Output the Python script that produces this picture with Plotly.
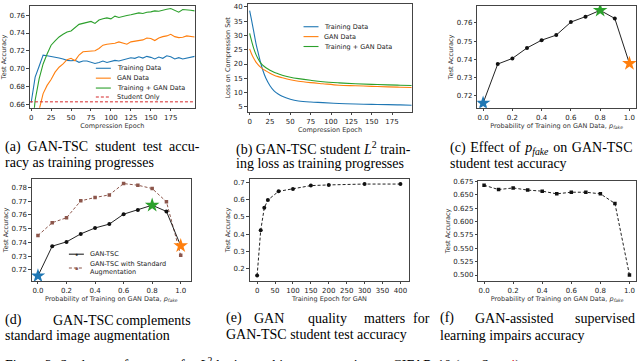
import plotly.graph_objects as go

W, H = 640, 361

BLUE = '#1f77b4'
ORANGE = '#ff7f0e'
GREEN = '#2ca02c'
RED = '#d62728'
BROWN = '#8c564b'

# (a) test accuracy vs compression epoch
epochs_a = list(range(0, 206, 5))
acc_train = [0.662, 0.6906, 0.7028, 0.7153, 0.7146, 0.7139, 0.7135, 0.712, 0.711, 0.7094,
             0.709, 0.7094, 0.7072, 0.7087, 0.7087, 0.707, 0.706, 0.707, 0.7087, 0.707,
             0.708, 0.7094, 0.7087, 0.710, 0.711, 0.7124, 0.7117, 0.7135, 0.712, 0.7139,
             0.7128, 0.711, 0.7131, 0.7117, 0.7146, 0.7135, 0.711, 0.7124, 0.711, 0.7117,
             0.7124, 0.7139]
acc_gan = [0.60, 0.63, 0.654, 0.6722, 0.6814, 0.688, 0.6962, 0.7017, 0.7054, 0.7102,
           0.7117, 0.7091, 0.7154, 0.719, 0.7194, 0.7198, 0.7202, 0.7227, 0.7264, 0.7275,
           0.7279, 0.7286, 0.7301, 0.7286, 0.7275, 0.7301, 0.7308, 0.7312, 0.7323, 0.7345,
           0.7338, 0.7316, 0.7345, 0.736, 0.7368, 0.7386, 0.736, 0.7349, 0.7353, 0.7368,
           0.7364, 0.7356]
acc_both = [0.62, 0.6648, 0.6888, 0.7054, 0.7165, 0.7264, 0.7312, 0.7356, 0.7386, 0.7412,
            0.7423, 0.746, 0.7497, 0.7508, 0.7523, 0.753, 0.7508, 0.7545, 0.7559, 0.757,
            0.7559, 0.7589, 0.7574, 0.7589, 0.7596, 0.7604, 0.7615, 0.7626, 0.7618, 0.7633,
            0.7637, 0.7648, 0.7644, 0.7659, 0.7666, 0.7674, 0.7655, 0.7633, 0.7663, 0.7655,
            0.7655, 0.7648]
student_only = 0.663

# (b) L2 loss vs compression epoch
epochs_b = [0, 2, 5, 8, 10, 13, 16, 20, 25, 30, 35, 40, 50, 60, 75, 90, 110, 130, 150, 170, 185, 199]
loss_train = [38.7, 35.9, 31.4, 26.9, 24.5, 21.0, 18.0, 15.0, 12.4, 10.6, 9.5, 8.7, 7.7, 7.1,
              6.7, 6.5, 6.2, 6.0, 5.9, 5.8, 5.7, 5.6]
loss_gan = [25.3, 23.8, 22.0, 20.6, 19.9, 19.0, 18.3, 17.6, 16.8, 16.1, 15.6, 15.2, 14.5, 14.0,
            13.5, 13.1, 12.6, 12.4, 12.2, 12.0, 11.9, 11.8]
loss_both = [30.7, 28.5, 25.5, 23.2, 22.0, 20.6, 19.6, 18.7, 17.8, 17.1, 16.6, 16.1, 15.4, 14.9,
             14.3, 13.8, 13.4, 13.1, 12.9, 12.7, 12.6, 12.5]

# (c)/(d) effect of p_fake
p_fake = [0.0, 0.1, 0.2, 0.3, 0.4, 0.5, 0.6, 0.7, 0.8, 0.9, 1.0]
acc_tsc = [0.7157, 0.7373, 0.7404, 0.7462, 0.7505, 0.7533, 0.7605, 0.7635, 0.767, 0.7625, 0.7376]
acc_tsc_aug = [0.745, 0.7543, 0.7579, 0.7702, 0.7726, 0.7745, 0.7827, 0.7815, 0.7791, 0.7695, 0.7307]
star_idx = [0, 8, 10]
star_colors = [BLUE, GREEN, ORANGE]

# (e) GAN quality
gan_epochs = [0, 10, 20, 30, 60, 100, 150, 200, 300, 400]
acc_gan_epoch = [0.162, 0.423, 0.553, 0.598, 0.648, 0.662, 0.681, 0.685, 0.690, 0.690]

# (f) GAN-assisted supervised learning
acc_sup = [0.668, 0.660, 0.663, 0.659, 0.657, 0.652, 0.655, 0.655, 0.652, 0.634, 0.500]


def dom(l, t, r, b):
    return [l / W, r / W], [1 - b / H, 1 - t / H]


TICKFONT = dict(family='DejaVu Sans', size=7, color='#222')
TITLEFONT = dict(family='DejaVu Sans', size=6.5, color='#333')
PFAKE = 'Probability of Training on GAN Data, <i>p<sub>fake</sub></i>'

fig = go.Figure()

panels = [
    # box, xrange, yrange, xticks, xfmt, yticks, yfmt, xtitle, ytitle
    ((29, 3, 194, 106), [-1.5, 205], [0.6563, 0.7703], [0, 25, 50, 75, 100, 125, 150, 175], 'd',
     [0.66, 0.68, 0.70, 0.72, 0.74, 0.76], '.2f', 'Compression Epoch', 'Test Accuracy'),
    ((247, 1, 412, 110), [-2.5, 200], [3.3, 41.0], [0, 25, 50, 75, 100, 125, 150, 175], 'd',
     [5, 10, 15, 20, 25, 30, 35, 40], 'd', 'Compression Epoch', 'Loss on Compression Set'),
    ((477, 3, 636, 106), [-0.04, 1.045], [0.7131, 0.7694], [0, 0.2, 0.4, 0.6, 0.8, 1.0], '.1f',
     [0.72, 0.73, 0.74, 0.75, 0.76], '.2f', PFAKE, 'Test Accuracy'),
    ((31, 178, 190, 281), [-0.042, 1.07], [0.7121, 0.786], [0, 0.2, 0.4, 0.6, 0.8, 1.0], '.1f',
     [0.72, 0.73, 0.74, 0.75, 0.76, 0.77, 0.78], '.2f', PFAKE, 'Test Accuracy'),
    ((249, 178, 409, 281), [-21, 425], [0.131, 0.719], [0, 50, 100, 150, 200, 250, 300, 350, 400], 'd',
     [0.2, 0.3, 0.4, 0.5, 0.6, 0.7], '.1f', 'Training Epoch for GAN', 'Test Accuracy'),
    ((478, 180, 636, 281), [-0.04, 1.045], [0.489, 0.676], [0, 0.2, 0.4, 0.6, 0.8, 1.0], '.1f',
     [0.5, 0.525, 0.55, 0.575, 0.6, 0.625, 0.65, 0.675], '.3f', PFAKE, 'Test Accuracy'),
]

layout = {}
for i, (box, xr, yr, xt, xf, yt, yf, xtitle, ytitle) in enumerate(panels, start=1):
    xd, yd = dom(*box)
    sfx = '' if i == 1 else str(i)
    common = dict(showline=True, mirror=True, linecolor='#444', linewidth=1, ticks='outside',
                  ticklen=2.5, tickcolor='#444', tickwidth=0.8, showgrid=False, zeroline=False,
                  tickfont=TICKFONT)
    layout['xaxis' + sfx] = dict(domain=xd, range=xr, anchor='y' + sfx, tickvals=xt, tickformat=xf,
                                 title=dict(text=xtitle, font=TITLEFONT, standoff=2), **common)
    layout['yaxis' + sfx] = dict(domain=yd, range=yr, anchor='x' + sfx, tickvals=yt, tickformat=yf,
                                 title=dict(text=ytitle, font=TITLEFONT, standoff=2), **common)

# (a)
for y, c in [(acc_train, BLUE), (acc_gan, ORANGE), (acc_both, GREEN)]:
    fig.add_trace(go.Scatter(x=epochs_a, y=y, mode='lines', line=dict(color=c, width=1.1),
                             xaxis='x', yaxis='y'))
fig.add_trace(go.Scatter(x=[-1.5, 205], y=[student_only, student_only], mode='lines',
                         line=dict(color=RED, width=1, dash='3px,2px'), xaxis='x', yaxis='y'))

# (b)
for y, c in [(loss_train, BLUE), (loss_gan, ORANGE), (loss_both, GREEN)]:
    fig.add_trace(go.Scatter(x=epochs_b, y=y, mode='lines', line=dict(color=c, width=1.1, shape='spline'),
                             xaxis='x2', yaxis='y2'))

# (c)
fig.add_trace(go.Scatter(x=p_fake, y=acc_tsc, mode='lines+markers', line=dict(color='#222', width=1),
                         marker=dict(size=4, color='#111'), xaxis='x3', yaxis='y3'))
fig.add_trace(go.Scatter(x=[p_fake[i] for i in star_idx], y=[acc_tsc[i] for i in star_idx],
                         mode='markers', marker=dict(symbol='star', size=11, color=star_colors),
                         xaxis='x3', yaxis='y3'))

# (d)
fig.add_trace(go.Scatter(x=p_fake, y=acc_tsc_aug, mode='lines+markers',
                         line=dict(color=BROWN, width=1, dash='3px,2px'),
                         marker=dict(symbol='square', size=3.5, color=BROWN), xaxis='x4', yaxis='y4'))
fig.add_trace(go.Scatter(x=p_fake, y=acc_tsc, mode='lines+markers', line=dict(color='#222', width=1),
                         marker=dict(size=4, color='#111'), xaxis='x4', yaxis='y4'))
fig.add_trace(go.Scatter(x=[p_fake[i] for i in star_idx], y=[acc_tsc[i] for i in star_idx],
                         mode='markers', marker=dict(symbol='star', size=11, color=star_colors),
                         xaxis='x4', yaxis='y4'))

# (e)
fig.add_trace(go.Scatter(x=gan_epochs, y=acc_gan_epoch, mode='lines+markers',
                         line=dict(color='#222', width=1, dash='3px,2px'),
                         marker=dict(size=4, color='#111'), xaxis='x5', yaxis='y5'))

# (f)
fig.add_trace(go.Scatter(x=p_fake, y=acc_sup, mode='lines+markers',
                         line=dict(color='#222', width=1, dash='3px,2px'),
                         marker=dict(symbol='square', size=3.5, color='#111'), xaxis='x6', yaxis='y6'))

shapes = []
annotations = []
LEGFONT = dict(family='DejaVu Sans', size=6.5, color='#222')


def legend_entry(x0, x1, y, text, color, dash='solid', marker=None, ty=None):
    shapes.append(dict(type='line', xref='paper', yref='paper', x0=x0 / W, x1=x1 / W,
                       y0=1 - y / H, y1=1 - y / H, line=dict(color=color, width=1.1, dash=dash)))
    if marker:
        annotations.append(dict(text=marker, x=(x0 + x1) / 2 / W, y=1 - y / H, xref='paper', yref='paper',
                                showarrow=False, font=dict(size=5, color=color),
                                xanchor='center', yanchor='middle'))
    annotations.append(dict(text=text, x=(x1 + 4) / W, y=1 - (ty if ty else y) / H, xref='paper',
                            yref='paper', showarrow=False, font=LEGFONT, xanchor='left',
                            yanchor='middle', align='left'))


legend_entry(95, 110, 66, 'Training Data', BLUE)
legend_entry(95, 110, 76, 'GAN Data', ORANGE)
legend_entry(95, 110, 86, 'Training + GAN Data', GREEN)
legend_entry(95, 110, 95, 'Student Only', RED, dash='3px,2px')

legend_entry(303, 318, 24, 'Training Data', BLUE)
legend_entry(303, 318, 34, 'GAN Data', ORANGE)
legend_entry(303, 318, 44, 'Training + GAN Data', GREEN)

legend_entry(68, 83, 254, 'GAN-TSC', '#222', marker='●')
legend_entry(68, 83, 268, 'GAN-TSC with Standard<br>Augmentation', BROWN, dash='3px,2px', marker='■')

CAP = dict(family='Liberation Serif', size=14, color='#000')


def cap(text, x, y, anchor='left'):
    annotations.append(dict(text=text, x=x / W, y=1 - y / H, xref='paper', yref='paper', showarrow=False,
                            font=CAP, xanchor=anchor, yanchor='middle'))


# justified caption lines get wider gaps
cap('(a)&nbsp; GAN-TSC&nbsp; student&nbsp; test&nbsp; accu-', 2, 146)
cap('racy as training progresses', 2, 161)
cap('(b) GAN-TSC student <i>L</i><sup>2</sup> train-', 233, 147)
cap('ing loss as training progresses', 233, 162)
cap('(c) \u200aEffect \u200aof \u200a<i>p<sub>fake</sub></i> \u200aon \u200aGAN-TSC', 448, 147)
cap('student test accuracy', 448, 162)

cap('(d)', 2, 321)
cap('GAN-TSC', 83, 321, 'center')
cap('complements', 192, 321, 'right')
cap('standard image augmentation', 2, 336)

cap('(e)', 223, 319)
cap('GAN', 268, 319, 'center')
cap('quality', 327, 319, 'center')
cap('matters', 384, 319, 'center')
cap('for', 432, 319, 'right')
cap('GAN-TSC student test accuracy', 223, 335)

cap('(f)', 438, 319)
cap('GAN-assisted', 514, 319, 'center')
cap('supervised', 637, 319, 'right')
cap('learning impairs accuracy', 438, 336)

annotations.append(dict(text='Figure 2: Student performance for <i>L</i><sup>2</sup> logit matching compression '
                             'on CIFAR-10 (see Sec. <span style="color:#d00">4</span>).',
                        x=2 / W, y=1 - 353.5 / H, xref='paper', yref='paper', showarrow=False, font=CAP,
                        xanchor='left', yanchor='top'))

fig.update_layout(width=W, height=H, margin=dict(l=0, r=0, t=0, b=0), showlegend=False,
                  plot_bgcolor='white', paper_bgcolor='white', shapes=shapes, annotations=annotations,
                  **layout)

fig.write_html("out.html", config={'displayModeBar': False},
               post_script="document.body.style.margin='0';")
